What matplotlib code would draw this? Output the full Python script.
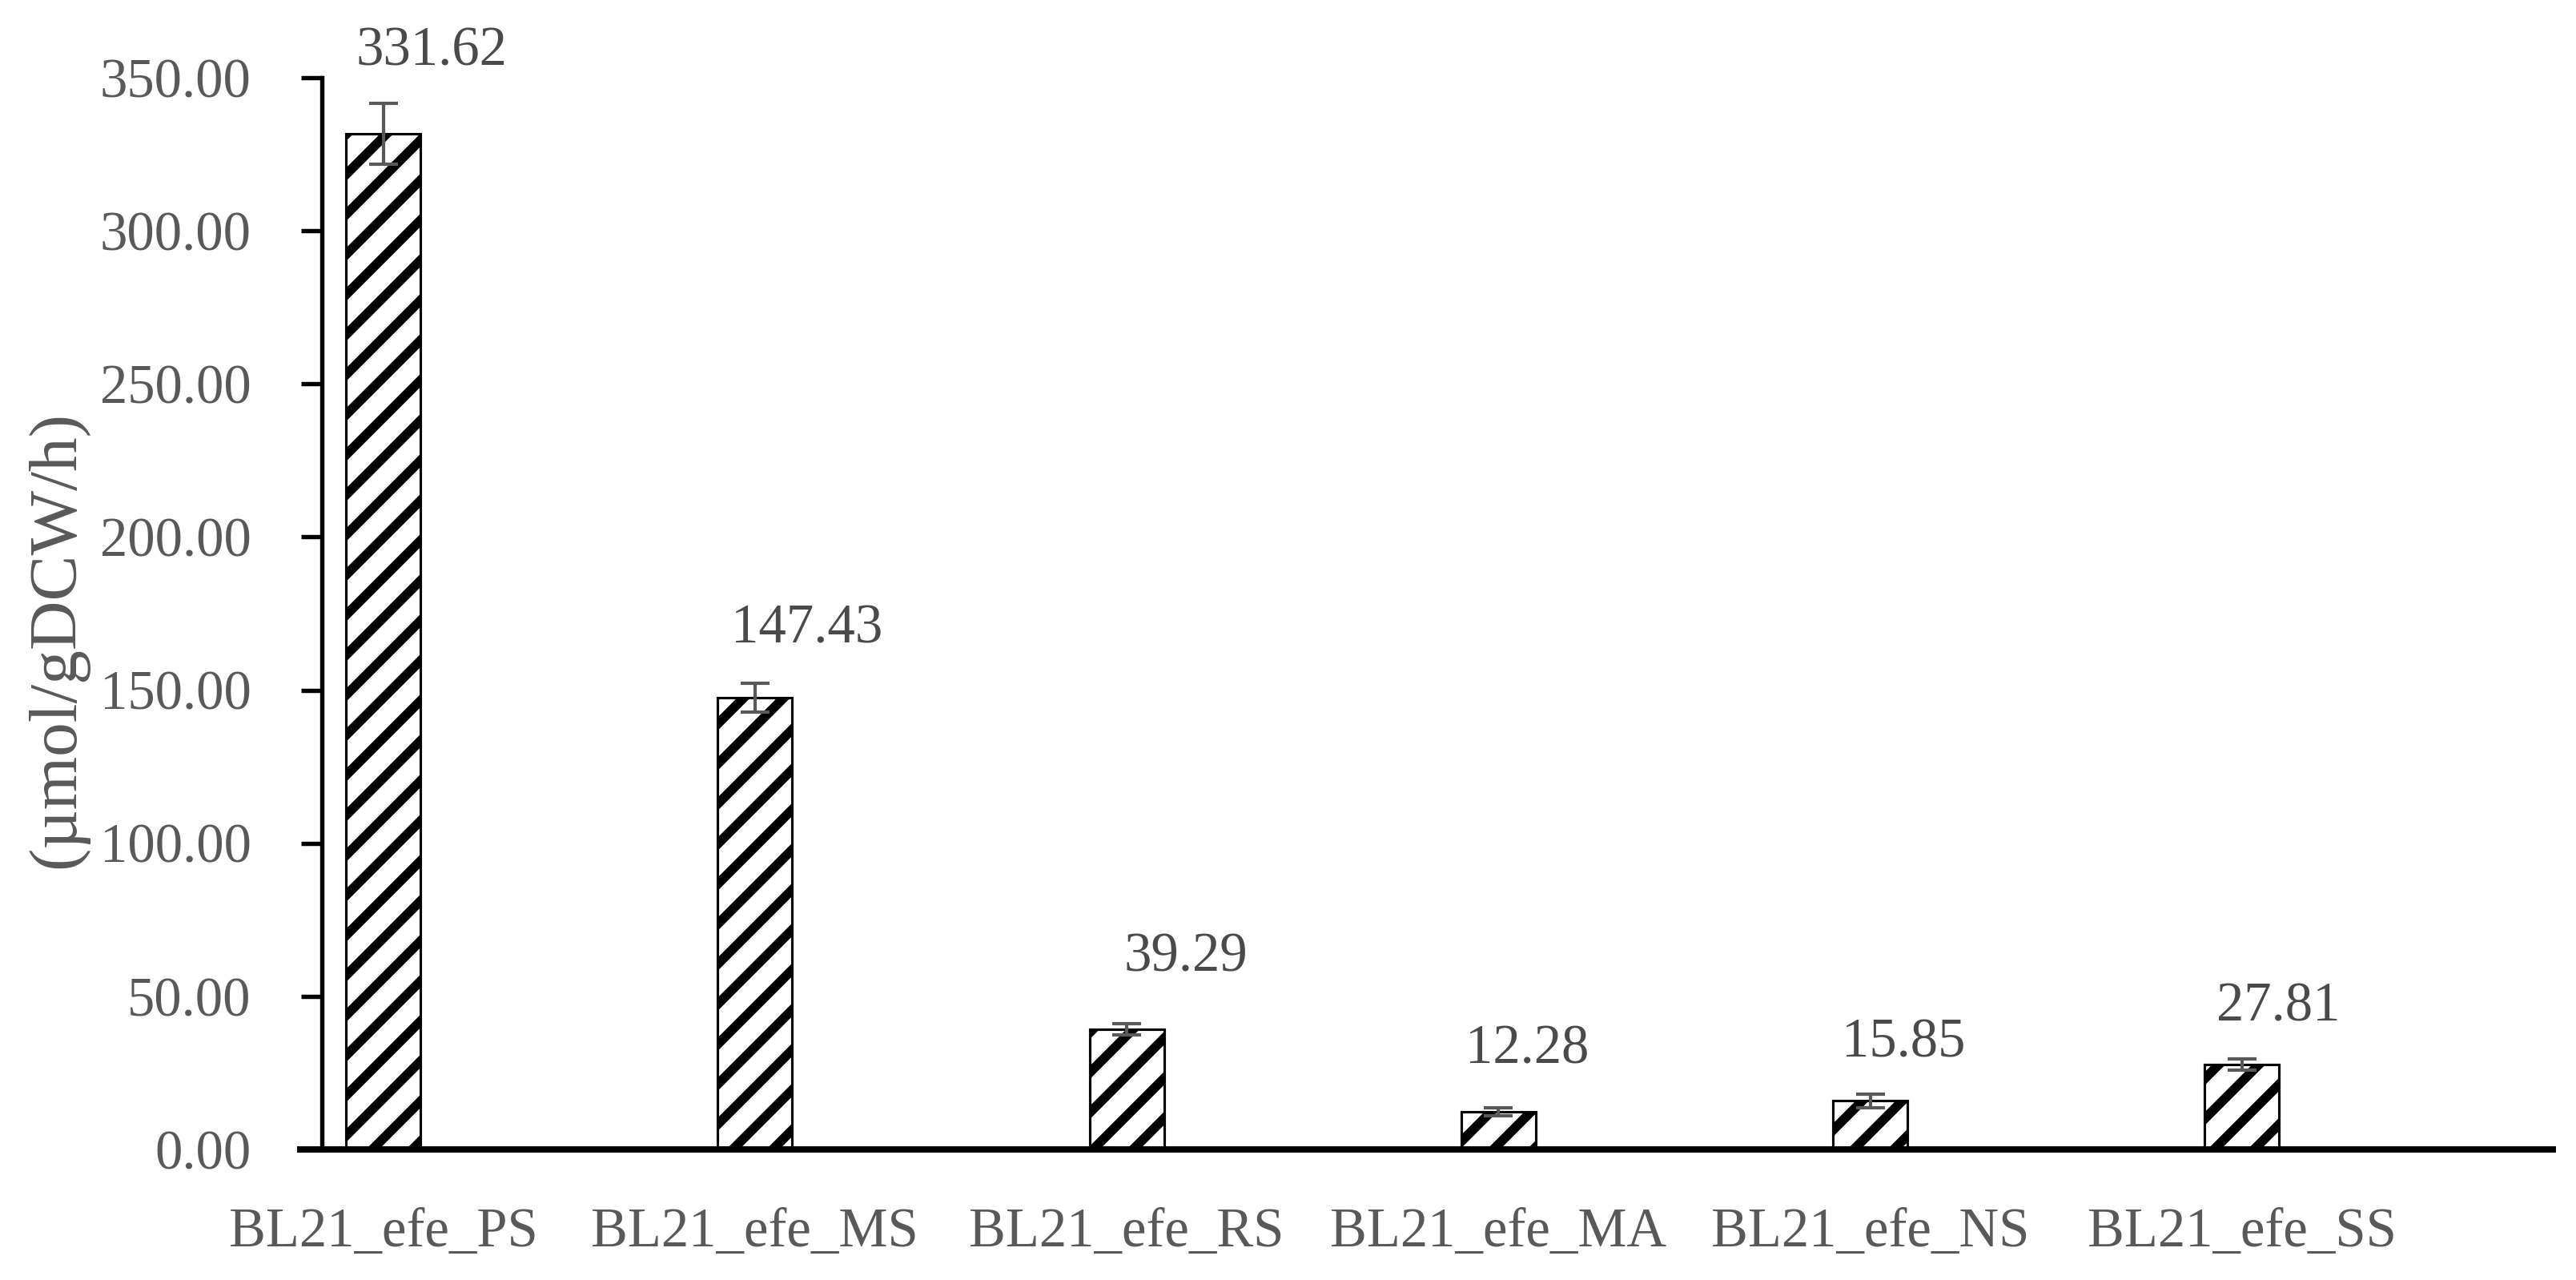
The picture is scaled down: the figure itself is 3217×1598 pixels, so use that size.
import matplotlib
matplotlib.use("Agg")
import matplotlib.pyplot as plt
import numpy as np

# Données
strains = ['BL21_efe_PS', 'BL21_efe_MS', 'BL21_efe_RS',
           'BL21_efe_MA', 'BL21_efe_NS', 'BL21_efe_SS']
values = [331.62, 147.43, 39.29, 12.28, 15.85, 27.81]
errors = [10.0, 4.7, 1.8, 1.3, 2.3, 1.8]

# Placement des étiquettes de valeur (décalage x en catégories, y en unités)
label_dx = [0.131, 0.140, 0.159, 0.078, 0.090, 0.097]
label_y = [358.5, 169.8, 62.6, 32.5, 34.6, 46.4]

plt.rcParams['font.family'] = ['Liberation Serif', 'DejaVu Serif']
plt.rcParams['hatch.linewidth'] = 2.8

grey = '#595959'

fig = plt.figure(figsize=(3217 / 300, 1598 / 300), dpi=300)
ax = fig.add_axes([0.11657, 0.10200, 0.87442, 0.83730])

x = np.arange(len(strains))
ax.bar(x, values, width=0.2, color='white', edgecolor='black',
       linewidth=0.75, hatch='//', zorder=2)
ax.errorbar(x, values, yerr=errors, fmt='none', ecolor=grey,
            elinewidth=1.0, capsize=4.3, capthick=1.0, zorder=3)

for i, v in enumerate(values):
    ax.text(x[i] + label_dx[i], label_y[i], f'{v:.2f}', ha='center',
            va='center', fontsize=16.5, color='#4a4a4a')

ax.set_xlim(-0.223, 5.836)
ax.set_ylim(0, 350)
ax.set_yticks(np.arange(0, 351, 50))
ax.set_yticklabels([f'{t:.2f}' for t in np.arange(0, 351, 50)])
ax.set_xticks(x)
ax.set_xticklabels(strains)

for s in ['top', 'right']:
    ax.spines[s].set_visible(False)
ax.spines['left'].set_position(('data', -0.165))
ax.spines['left'].set_linewidth(1.3)
ax.spines['bottom'].set_linewidth(1.9)

ax.tick_params(axis='y', direction='out', length=6.2, width=1.3,
               pad=15, labelsize=16.5, labelcolor=grey)
ax.tick_params(axis='x', length=0, pad=17.5, labelsize=16.5,
               labelcolor=grey)

ax.set_ylabel('(µmol/gDCW/h)', fontsize=20.5, color=grey)
ax.yaxis.set_label_coords(-0.086, 0.5, transform=None)
ax.yaxis.label.set_transform(fig.transFigure)
ax.yaxis.label.set_position((110 / 3217, 0.5))

fig.savefig('out.png', dpi=300)
